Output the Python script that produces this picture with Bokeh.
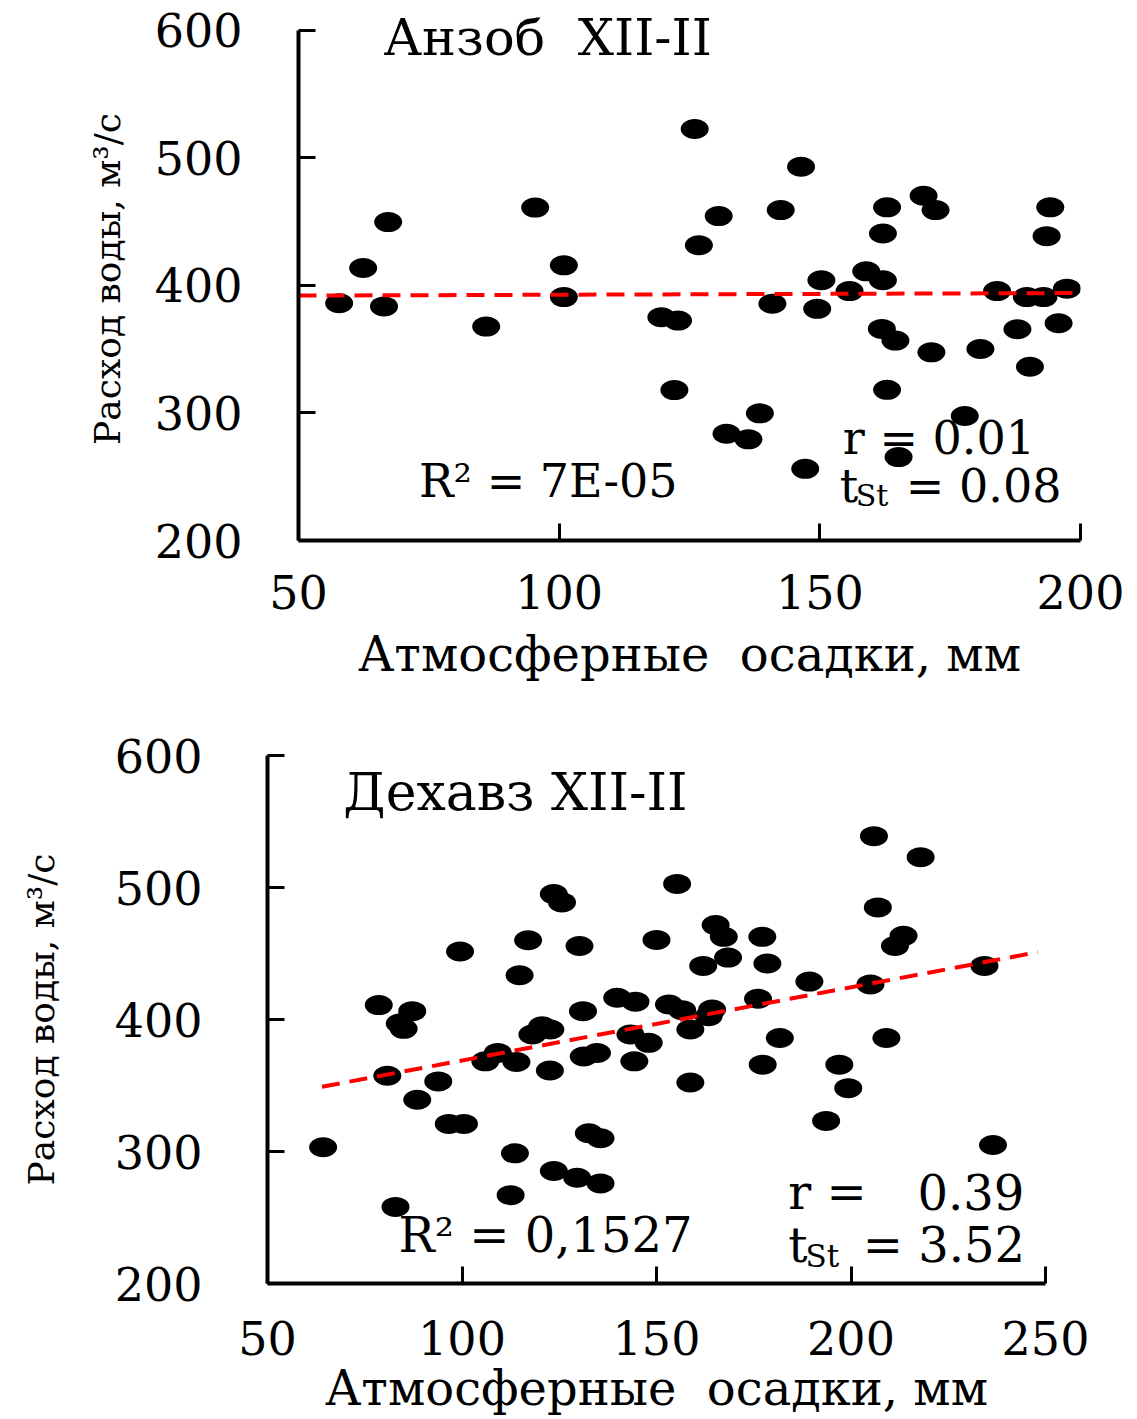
from bokeh.plotting import figure
from bokeh.models import Range1d, FixedTicker, Label, ColumnDataSource
from bokeh.embed import file_html
from bokeh.resources import INLINE

# Анзоб, XII-II: precipitation (mm) vs water discharge (m3/s)
anzob_precip = [57.8, 62.4, 67.2, 66.4, 86.0, 95.4, 100.9, 100.9, 119.6, 122.8,
                122.1, 126.0, 126.8, 130.6, 142.5, 146.4, 162.9, 162.1, 169.9, 172.2,
                194.2, 193.5, 150.3, 158.9, 162.1, 155.7, 140.9, 149.5, 184.0, 189.7,
                192.9, 197.4, 195.8, 187.9, 161.9, 164.5, 171.4, 180.8, 190.3, 162.9,
                138.5, 132.1, 136.3, 177.8, 165.1, 147.2]
anzob_flow = [386, 413.6, 449.6, 383.5, 367.7, 461, 415.7, 390.8, 375, 372.4,
              317.9, 522.6, 431.5, 454.3, 459, 493, 461.2, 440.7, 470.3, 459,
              461.2, 438.6, 404, 411, 404, 395.5, 385.6, 381.6, 395.5, 390.8,
              390.8, 397.4, 370.3, 365.6, 365.9, 356.7, 347.5, 350.1, 336.2, 318.1,
              299.7, 283.7, 279.3, 297.6, 265.4, 256.2]
anzob_trend_x = [50, 200]
anzob_trend_y = [392, 394]

# Дехавз, XII-II
dehavz_precip = [64.3, 78.6, 84.0, 87.2, 85.0, 80.8, 88.5, 93.9, 96.6, 100.5,
                 99.5, 82.9, 117.0, 114.8, 123.6, 125.7, 130.2, 113.6, 112.5, 123.6,
                 129.6, 135.6, 132.6, 135.6, 122.6, 118.1, 120.6, 122.7, 109.2, 106.0,
                 114.0, 131.1, 131.3, 134.7, 139.9, 144.6, 143.3, 148.0, 144.3, 205.9,
                 217.9, 155.3, 206.9, 150.0, 165.2, 167.3, 177.2, 168.4, 162.0, 178.5,
                 213.5, 211.3, 189.3, 205.0, 234.3, 176.1, 153.2, 156.6, 164.3, 158.7,
                 163.4, 181.7, 209.1, 158.7, 177.3, 197.0, 199.3, 193.6, 236.5]
dehavz_flow = [303.2, 410.9, 397, 406.3, 392.9, 357.4, 339.2, 353.1, 320.9, 320.9,
               451.5, 258, 460, 433.5, 495, 488.7, 455.7, 298.6, 266.9, 285.2,
               280.1, 275.8, 313.8, 310, 361.4, 388.6, 394.9, 392.4, 374.7, 368.3,
               367.8, 406.3, 372, 374.6, 416.5, 413.5, 388.6, 382.3, 368.3, 538.9,
               523, 502.7, 484.9, 460.3, 471.5, 462.6, 462.6, 446.9, 440.6, 442.4,
               463.4, 455.7, 428.7, 426.6, 440.6, 415.7, 411.4, 407.1, 407.6, 392.4,
               402.5, 386, 386, 352.3, 365.8, 365.8, 348, 323.2, 304.9]
dehavz_trend_x = [64, 248]
dehavz_trend_y = [349, 451]

y_ticks = [200, 300, 400, 500, 600]
FONT = "DejaVu Serif"
NBSP = "\u00a0"


def make_panel(xs, ys, tx, ty, x_end, y_end, x_ticks, height, borders,
               ylab_standoff, ytick_standoff, xtick_standoff, xlab_standoff):
    left, right, top, bottom = borders
    p = figure(width=1137, height=height, output_backend="svg", toolbar_location=None,
               x_range=Range1d(50, x_end), y_range=Range1d(200, y_end),
               min_border_left=left, min_border_right=right,
               min_border_top=top, min_border_bottom=bottom)
    p.outline_line_color = None
    p.grid.visible = False
    p.background_fill_color = "white"
    p.border_fill_color = "white"

    for ax in (p.xaxis[0], p.yaxis[0]):
        ax.axis_line_width = 4
        ax.axis_line_color = "black"
        ax.major_tick_line_width = 3
        ax.major_tick_in = 17
        ax.major_tick_out = 0
        ax.minor_tick_line_color = None
        ax.major_label_text_font = FONT
        ax.major_label_text_font_size = "46px"
        ax.major_label_text_color = "black"
        ax.axis_label_text_font = FONT
        ax.axis_label_text_font_style = "normal"
        ax.axis_label_text_color = "black"

    p.yaxis.bounds = (200, 600)
    p.xaxis.ticker = FixedTicker(ticks=x_ticks)
    p.yaxis.ticker = FixedTicker(ticks=y_ticks)
    p.xaxis.major_label_standoff = xtick_standoff
    p.yaxis.major_label_standoff = ytick_standoff
    p.xaxis.axis_label = "Атмосферные" + NBSP + " осадки, мм"
    p.xaxis.axis_label_text_font_size = "48px"
    p.xaxis.axis_label_standoff = xlab_standoff
    p.yaxis.axis_label = "Расход воды, м³/с"
    p.yaxis.axis_label_text_font_size = "36px"
    p.yaxis.axis_label_standoff = ylab_standoff

    src = ColumnDataSource(dict(x=xs, y=ys))
    p.ellipse(x="x", y="y", width=28, height=20, width_units="screen",
              height_units="screen", source=src, fill_color="black",
              line_color=None)
    p.line(tx, ty, line_color="#ff0000", line_width=4, line_dash="18 10")
    return p


def label(p, x, y, text, size="46px"):
    p.add_layout(Label(x=x, y=y, text=text, text_font=FONT, text_font_size=size,
                       text_baseline="middle", text_align="left",
                       text_color="black", level="overlay"))


top = make_panel(anzob_precip, anzob_flow, anzob_trend_x, anzob_trend_y, 200, 610,
                 [50, 100, 150, 200], 700, (298, 57, 17, 160), 24, 56, 34, 14)
label(top, 66.3, 594, "Анзоб" + NBSP + " XII-II", "51px")
label(top, 73.1, 246.5, "R² = 7E-05")
label(top, 154.4, 280.3, "r = 0.01")
label(top, 153.8, 242.5, "t")
label(top, 156.9, 235, "St", "30px")
label(top, 166.5, 242.5, "= 0.08")

bottom = make_panel(dehavz_precip, dehavz_flow, dehavz_trend_x, dehavz_trend_y, 250,
                    600, [50, 100, 150, 200, 250], 719, (267, 92, 55, 136), 50, 65,
                    37, 2)
label(bottom, 69.5, 572.6, "Дехавз XII-II", "52px")
label(bottom, 83.7, 236.5, "R² = 0,1527", "48px")
label(bottom, 183.9, 269.2, "r =", "48px")
label(bottom, 217.1, 269.2, "0.39", "48px")
label(bottom, 183.9, 228.9, "t", "48px")
label(bottom, 188.3, 221, "St", "31px")
label(bottom, 203.0, 228.9, "= 3.52", "48px")

open("out.html", "w").write(file_html([top, bottom], INLINE))
